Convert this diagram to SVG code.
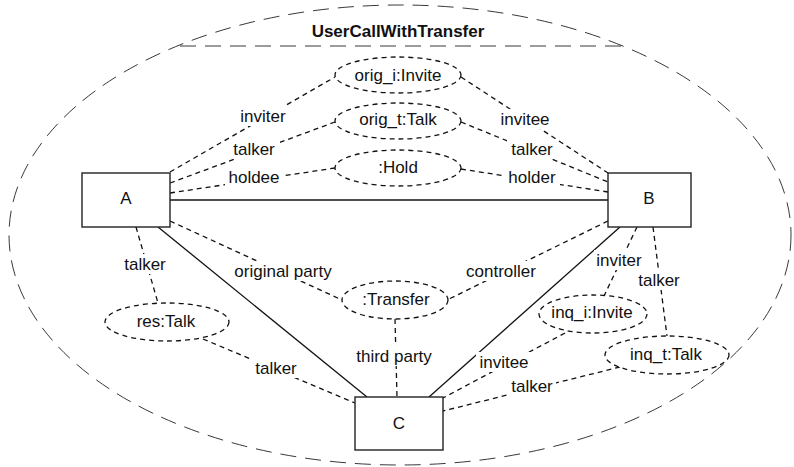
<svg xmlns="http://www.w3.org/2000/svg" width="794" height="467" viewBox="0 0 794 467">
<style>
text{font-family:"Liberation Sans",Arial,sans-serif;font-size:17px;fill:#111;text-anchor:middle}
.title{font-weight:bold}
.frame{fill:none;stroke:#222;stroke-width:0.9;stroke-dasharray:16 9}
.box{fill:#fff;stroke:#222;stroke-width:1.4}
.obj{fill:#fff;stroke:#111;stroke-width:1.3;stroke-dasharray:5 4}
.dl{fill:none;stroke:#111;stroke-width:1.3;stroke-dasharray:5 4}
.sl{fill:none;stroke:#111;stroke-width:1.3}
.bg{fill:#fff}
</style>
<g id="frame">
<ellipse class="frame" cx="400" cy="235" rx="391" ry="230"/>
<line class="frame" x1="180" y1="46" x2="622" y2="46"/>
<text class="title" x="398" y="37">UserCallWithTransfer</text>
</g>
<g id="connectors">
<line class="sl" x1="170" y1="200" x2="608" y2="200"/>
<line class="sl" x1="158" y1="227" x2="367" y2="397"/>
<line class="sl" x1="620" y1="227" x2="429" y2="397"/>
<line class="dl" x1="170" y1="172" x2="335" y2="77"/>
<line class="dl" x1="170" y1="183" x2="335" y2="122"/>
<line class="dl" x1="170" y1="193" x2="335" y2="168"/>
<line class="dl" x1="461" y1="77" x2="608" y2="173"/>
<line class="dl" x1="461" y1="122" x2="608" y2="182"/>
<line class="dl" x1="461" y1="169" x2="608" y2="192"/>
<line class="dl" x1="136" y1="227" x2="158" y2="303"/>
<line class="dl" x1="203" y1="339" x2="355" y2="403"/>
<line class="dl" x1="170" y1="221" x2="342" y2="300"/>
<line class="dl" x1="608" y1="221" x2="447" y2="300"/>
<line class="dl" x1="395" y1="319" x2="397" y2="397"/>
<line class="dl" x1="637" y1="227" x2="604" y2="296"/>
<line class="dl" x1="653" y1="227" x2="667" y2="336"/>
<line class="dl" x1="565" y1="333" x2="443" y2="398"/>
<line class="dl" x1="620" y1="367" x2="443" y2="411"/>
<g id="labels">
<rect class="bg" x="237" y="106" width="52" height="20"/><text x="263" y="122">inviter</text>
<rect class="bg" x="229" y="139" width="51" height="20"/><text x="254" y="155">talker</text>
<rect class="bg" x="225" y="167" width="58" height="20"/><text x="254" y="183">holdee</text>
<rect class="bg" x="497" y="109" width="56" height="20"/><text x="525" y="125">invitee</text>
<rect class="bg" x="507" y="139" width="50" height="20"/><text x="532" y="155">talker</text>
<rect class="bg" x="505" y="167" width="55" height="20"/><text x="532" y="183">holder</text>
<rect class="bg" x="120" y="254" width="50" height="20"/><text x="145" y="270">talker</text>
<rect class="bg" x="231" y="261" width="104" height="20"/><text x="283" y="277">original party</text>
<rect class="bg" x="251" y="358" width="50" height="20"/><text x="276" y="374">talker</text>
<rect class="bg" x="462" y="261" width="78" height="20"/><text x="501" y="277">controller</text>
<rect class="bg" x="353" y="346" width="82" height="20"/><text x="394" y="362">third party</text>
<rect class="bg" x="594" y="250" width="50" height="20"/><text x="619" y="266">inviter</text>
<rect class="bg" x="635" y="270" width="48" height="20"/><text x="659" y="286">talker</text>
<rect class="bg" x="476" y="352" width="56" height="20"/><text x="504" y="368">invitee</text>
<rect class="bg" x="508" y="376" width="48" height="20"/><text x="532" y="392">talker</text>
</g>
</g>
<g id="A"><rect class="box" x="82" y="173" width="88" height="54"/><text x="126" y="204">A</text></g>
<g id="B"><rect class="box" x="608" y="173" width="83" height="54"/><text x="649" y="204">B</text></g>
<g id="C"><rect class="box" x="355" y="397" width="88" height="53"/><text x="399" y="429">C</text></g>
<g id="orig_i"><ellipse class="obj" cx="398" cy="75" rx="63" ry="18"/><text x="398" y="81">orig_i:Invite</text></g>
<g id="orig_t"><ellipse class="obj" cx="398" cy="121" rx="63" ry="18"/><text x="398" y="125">orig_t:Talk</text></g>
<g id="hold"><ellipse class="obj" cx="398" cy="168" rx="63" ry="18"/><text x="398" y="173">:Hold</text></g>
<g id="res"><ellipse class="obj" cx="167" cy="322" rx="62" ry="19"/><text x="166" y="327">res:Talk</text></g>
<g id="transfer"><ellipse class="obj" cx="395" cy="300" rx="53" ry="19"/><text x="396" y="305">:Transfer</text></g>
<g id="inq_i"><ellipse class="obj" cx="593" cy="314" rx="54" ry="19"/><text x="592" y="318">inq_i:Invite</text></g>
<g id="inq_t"><ellipse class="obj" cx="667" cy="355" rx="62" ry="19"/><text x="666" y="360">inq_t:Talk</text></g>
</svg>
